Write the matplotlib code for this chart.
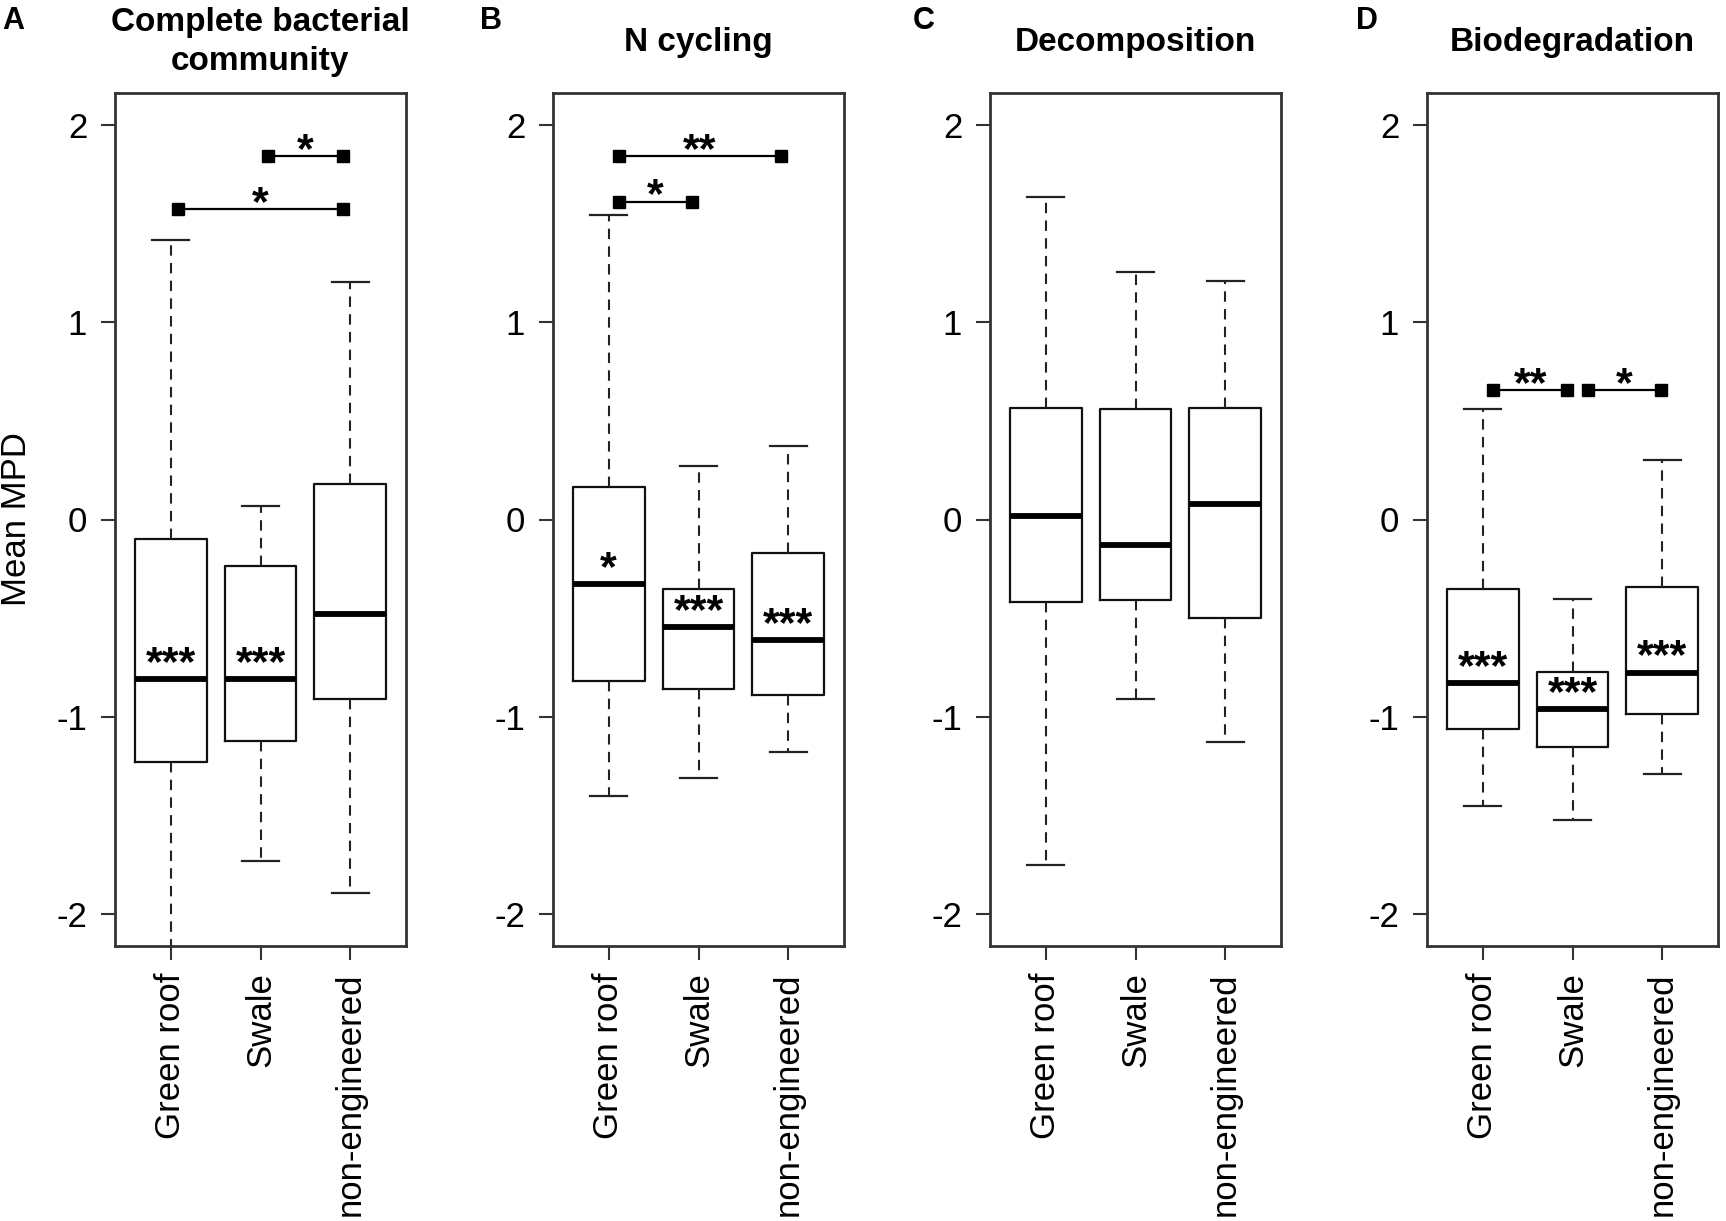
import numpy as np
import matplotlib
matplotlib.use("Agg")
import matplotlib.pyplot as plt

plt.rcParams['font.family'] = ['Liberation Sans', 'DejaVu Sans']
plt.rcParams['axes.unicode_minus'] = False

groups = ["Green roof", "Swale", "non-engineered"]
titles = ["Complete bacterial\ncommunity", "N cycling", "Decomposition", "Biodegradation"]
letters = ["A", "B", "C", "D"]

# box stats per panel: lower whisker, Q1, median, Q3, upper whisker
whislo = [[-2.40, -1.73, -1.89],
          [-1.40, -1.31, -1.18],
          [-1.75, -0.91, -1.125],
          [-1.45, -1.52, -1.29]]
q1 = [[-1.23, -1.12, -0.91],
      [-0.82, -0.86, -0.89],
      [-0.42, -0.41, -0.497],
      [-1.06, -1.15, -0.985]]
med = [[-0.81, -0.81, -0.477],
       [-0.325, -0.543, -0.61],
       [0.02, -0.13, 0.077],
       [-0.83, -0.96, -0.775]]
q3 = [[-0.10, -0.233, 0.178],
      [0.167, -0.35, -0.17],
      [0.563, 0.56, 0.563],
      [-0.35, -0.77, -0.34]]
whishi = [[1.416, 0.066, 1.203],
          [1.54, 0.27, 0.37],
          [1.635, 1.254, 1.21],
          [0.56, -0.405, 0.30]]

# significance labels inside boxes
box_stars = [["***", "***", ""],
             ["*", "***", "***"],
             ["", "", ""],
             ["***", "***", "***"]]

# pairwise comparison bars: panel, x start, x end, y, label
bar_panel = [0, 0, 1, 1, 3, 3]
bar_x0 = [2.08, 1.08, 1.11, 1.11, 1.12, 2.17]
bar_x1 = [2.92, 2.92, 2.92, 1.93, 1.94, 2.99]
bar_y = [1.84, 1.57, 1.84, 1.61, 0.655, 0.655]
bar_lab = ["*", "*", "**", "*", "**", "*"]

W, H = 1726, 1221
fig = plt.figure(figsize=(W / 100, H / 100), dpi=100)

lefts = [115, 553, 990, 1427]
letter_x = [13, 491, 924, 1367]
ax_w, ax_top, ax_bot = 291, 93, 946

for p in range(4):
    ax = fig.add_axes([lefts[p] / W, 1 - ax_bot / H, ax_w / W, (ax_bot - ax_top) / H])
    stats = []
    for i in range(3):
        stats.append(dict(med=med[p][i], q1=q1[p][i], q3=q3[p][i],
                          whislo=whislo[p][i], whishi=whishi[p][i], fliers=[]))
    ax.bxp(stats, positions=[1, 2, 3], widths=0.8, showfliers=False,
           boxprops=dict(color='#111111', linewidth=1.6),
           medianprops=dict(color='black', linewidth=4.2, solid_capstyle='butt'),
           whiskerprops=dict(color='#222222', linewidth=1.5, linestyle=(0, (5, 3.5))),
           capprops=dict(color='#222222', linewidth=1.6), capwidths=0.41)

    for i in range(3):
        if box_stars[p][i]:
            ax.text(i + 1, med[p][i] + 0.02, box_stars[p][i], ha='center', va='baseline',
                    fontsize=31, fontweight='bold')

    for k in range(len(bar_panel)):
        if bar_panel[k] != p:
            continue
        ax.plot([bar_x0[k], bar_x1[k]], [bar_y[k], bar_y[k]], color='black', lw=1.6,
                marker='s', markersize=9, markerfacecolor='black', markeredgecolor='black')
        ax.text((bar_x0[k] + bar_x1[k]) / 2, bar_y[k] - 0.03, bar_lab[k], ha='center',
                va='baseline', fontsize=31, fontweight='bold')

    ax.set_xlim(0.38, 3.62)
    ax.set_ylim(-2.16, 2.16)
    ax.set_yticks([-2, -1, 0, 1, 2])
    ax.set_yticklabels(["-2", "-1", "0", "1", "2"])
    ax.set_xticks([1, 2, 3])
    ax.set_xticklabels(groups, rotation=90, ha='center', va='top')
    ax.tick_params(axis='both', labelsize=25, length=10, width=1.5, color='#333333',
                   direction='out', top=False, right=False)
    ax.tick_params(axis='x', pad=9)
    ax.tick_params(axis='y', pad=10)
    for s in ax.spines.values():
        s.set_color('#333333')
        s.set_linewidth(2)

    ax.text(0.5, (ax_bot - 42) / (ax_bot - ax_top), titles[p], transform=ax.transAxes,
            ha='center', va='center', fontsize=24, fontweight='bold', linespacing=1.3)
    fig.text(letter_x[p] / W, 1 - 21 / H, letters[p], ha='center', va='center',
             fontsize=22, fontweight='bold')

fig.text(17 / W, 1 - 519 / H, "Mean MPD", rotation=90, ha='center', va='center', fontsize=25)

fig.savefig("out.png", dpi=100, facecolor='white')
